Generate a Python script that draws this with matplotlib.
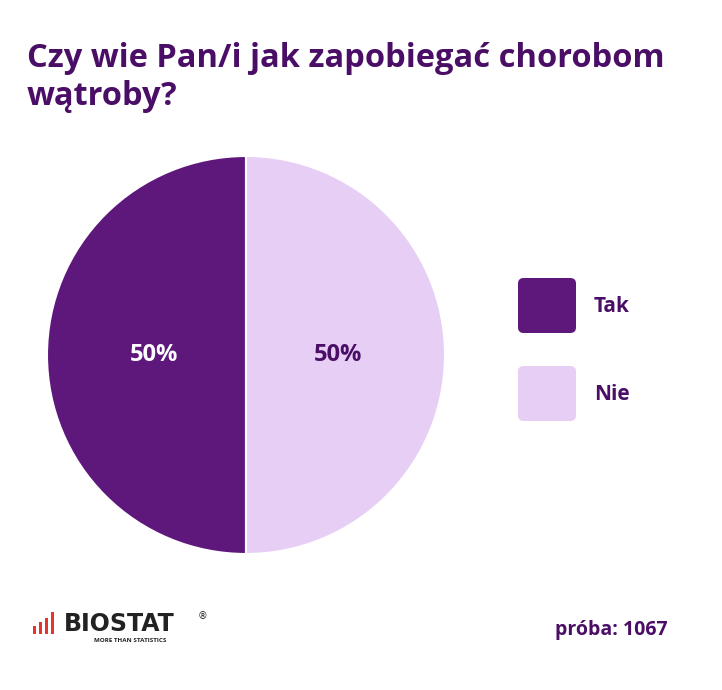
import matplotlib
matplotlib.use("Agg")
import matplotlib.pyplot as plt
from matplotlib.patches import FancyBboxPatch, Rectangle

categories = ["Tak", "Nie"]
values = [50, 50]
colors = ["#5E177B", "#E6CEF4"]
label_colors = ["white", "#4A0E66"]
title = "Czy wie Pan/i jak zapobiegać chorobom\nwątroby?"
sample = "próba: 1067"

W, H = 722, 690
fig = plt.figure(figsize=(W/100, H/100), dpi=100)
fig.patch.set_facecolor("white")
fam = ["Open Sans", "DejaVu Sans"]
purple = "#4A0E66"

fig.text(27/W, 1-42/H, title, ha="left", va="top", fontsize=23.5, fontweight="bold",
         color=purple, family=fam, linespacing=1.2)

ax = fig.add_axes([46/W, 1-555/H, 400/W, 400/H])
wedges, texts, autotexts = ax.pie(values, colors=colors, startangle=90, counterclock=True,
                                  autopct="%d%%", pctdistance=0.46, radius=1,
                                  wedgeprops=dict(edgecolor="white", linewidth=1.5))
for t, c in zip(autotexts, label_colors):
    t.set_color(c); t.set_fontsize(17); t.set_fontweight("bold"); t.set_family(fam)
ax.set_aspect("equal")
ax.set_xlim(-1.005, 1.005); ax.set_ylim(-1.005, 1.005)

for i, (cat, col) in enumerate(zip(categories, colors)):
    ytop = 278 + i*88
    fig.patches.append(FancyBboxPatch((518/W, 1-(ytop+55)/H), 58/W, 55/H,
                                      boxstyle="round,pad=0,rounding_size=0.008",
                                      transform=fig.transFigure, facecolor=col, edgecolor="none"))
    fig.text(594/W, 1-(ytop+28)/H, cat, ha="left", va="center", fontsize=15,
             fontweight="bold", color=purple, family=fam)

fig.text(668/W, 1-630/H, sample, ha="right", va="center", fontsize=14,
         fontweight="bold", color=purple, family=fam)

# logo
for i, h in enumerate([8, 12, 16, 22]):
    x = 33 + i*6
    fig.patches.append(Rectangle((x/W, 1-634/H), 3/W, h/H, transform=fig.transFigure,
                                 facecolor="#E8342E", edgecolor="none"))
fig.text(64/W, 1-624/H, "BIOSTAT", ha="left", va="center", fontsize=17, fontweight="bold",
         color="#222222", family=["DejaVu Sans"])
fig.text(198/W, 1-616/H, "®", ha="left", va="center", fontsize=7, color="#222222")
fig.text(130/W, 1-641/H, "MORE THAN STATISTICS", ha="center", va="center", fontsize=4.5,
         fontweight="bold", color="#222222", family=fam)

fig.savefig("out.png", dpi=100)
